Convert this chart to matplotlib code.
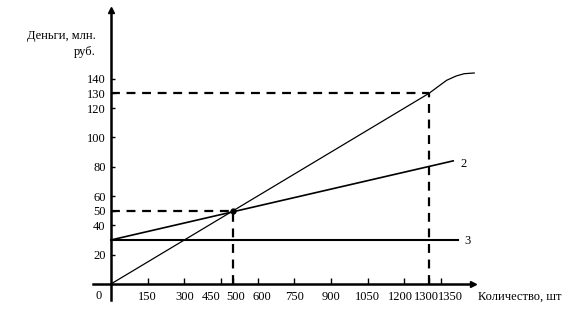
import matplotlib.pyplot as plt
import matplotlib.transforms as mtransforms

plt.rcParams['font.family'] = ['Liberation Serif', 'DejaVu Serif']

# Line 1: revenue (straight to 1300, then bends and flattens)
q_rev = [0, 1300, 1373, 1413, 1445, 1486]
v_rev = [0, 130, 139, 142, 143.5, 144]
# Line 2: total costs
q_cost = [0, 1400]
v_cost = [30, 84]
# Line 3: fixed costs
q_fix = [0, 1420]
v_fix = [30, 30]

be_q, be_v = 500, 50       # break-even point
mx_q, mx_v = 1300, 130     # second marked point

xticks = [150, 300, 450, 500, 600, 750, 900, 1050, 1200, 1300, 1350]
yticks = [20, 40, 50, 60, 80, 100, 120, 130, 140]

fig = plt.figure(figsize=(5.76, 3.26), dpi=100)
ax = fig.add_axes([93/576, 1 - 300/326, 380/576, 290/326])
ax.set_xlim(-74, 1481)
ax.set_ylim(-11, 187)

# axes through origin
for s in ['top', 'right']:
    ax.spines[s].set_visible(False)
ax.spines['left'].set_position(('data', 0))
ax.spines['bottom'].set_position(('data', 0))
ax.spines['left'].set_linewidth(1.8)
ax.spines['bottom'].set_linewidth(1.8)
ax.plot(1, 0, '>', color='k', ms=5, transform=ax.get_yaxis_transform(), clip_on=False)
ax.plot(0, 1, '^', color='k', ms=5, transform=ax.get_xaxis_transform(), clip_on=False)

ax.set_xticks(xticks)
ax.set_yticks(yticks)
ax.tick_params(axis='x', direction='in', length=4, width=1, pad=5, labelsize=9)
ax.tick_params(axis='y', direction='in', length=3, width=1, pad=4, labelsize=9)
ax.text(-50, -4, '0', ha='center', va='top', fontsize=9)

# crowded x labels: nudge apart (points)
nudge = {450: -7, 500: 2, 600: 3, 1200: -3, 1300: -1.5, 1350: 7}
fig.canvas.draw()
for val, lab in zip(xticks, ax.get_xticklabels()):
    if val in nudge:
        lab.set_transform(lab.get_transform() +
                          mtransforms.ScaledTranslation(nudge[val] / 72, 0, fig.dpi_scale_trans))

# dashed guides
dash = dict(color='k', lw=1.6, linestyle=(0, (4, 3)))
ax.plot([0, be_q], [be_v, be_v], **dash)
ax.plot([be_q, be_q], [0, be_v], **dash)
ax.plot([0, mx_q], [mx_v, mx_v], **dash)
ax.plot([mx_q, mx_q], [0, mx_v], **dash)

ax.plot(q_rev, v_rev, color='k', lw=0.9, clip_on=False)
ax.plot(q_cost, v_cost, color='k', lw=1.2)
ax.plot(q_fix, v_fix, color='k', lw=1.5)
ax.plot(be_q, be_v, 'o', color='k', ms=3.5)

ax.text(q_cost[-1] + 30, v_cost[-1] - 2, '2', ha='left', va='center', fontsize=9)
ax.text(q_fix[-1] + 25, v_fix[-1] - 1, '3', ha='left', va='center', fontsize=9)

fig.text(96/576, 1 - 44/326, 'Деньги, млн.\nруб.', ha='right', va='center',
         multialignment='right', fontsize=9, linespacing=1.4)
fig.text(478/576, 1 - 297/326, 'Количество, шт', ha='left', va='center', fontsize=9)

fig.savefig('out.png', dpi=100)
